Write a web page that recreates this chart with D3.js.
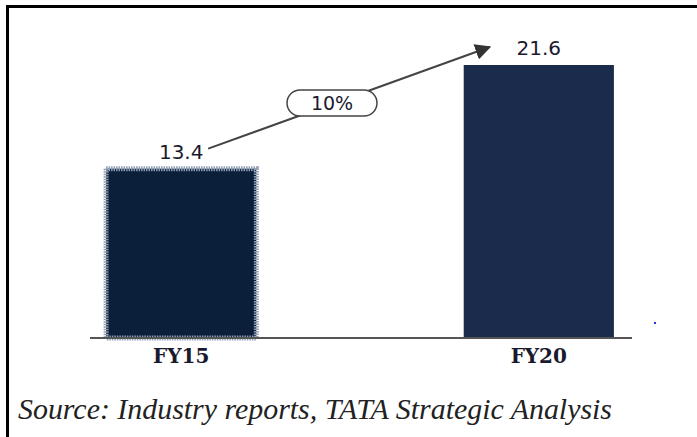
<!DOCTYPE html>
<html>
<head>
<meta charset="utf-8">
<script src="https://cdn.jsdelivr.net/npm/d3@7"></script>
<style>
  body { margin: 0; background: #fff; }
</style>
</head>
<body>
<svg id="drawing_region"></svg>
<script>
const categories = ["FY15", "FY20"];
const values = [13.4, 21.6];
const valueLabels = ["13.4", "21.6"];
const cagrLabel = "10%";
const sourceNote = "Source: Industry reports, TATA Strategic Analysis";

const width = 697, height = 437;
const svg = d3.select("#drawing_region")
    .attr("width", width)
    .attr("height", height);

svg.append("rect")
    .attr("width", width).attr("height", height)
    .attr("fill", "#fff");

// outer frame (runs off right & bottom)
svg.append("rect")
    .attr("x", 7.5).attr("y", 6.5)
    .attr("width", 800).attr("height", 800)
    .attr("fill", "none")
    .attr("stroke", "#000")
    .attr("stroke-width", 3);

const baseY = 338;
const xscale = d3.scaleBand()
    .domain(categories)
    .range([90, 630])
    .paddingInner(0.58)
    .paddingOuter(0.045);

const yscale = d3.scaleLinear()
    .domain([0, 21.6])
    .range([baseY, 65]);

const fills = ["#0b1f3a", "#1b2b4b"];

svg.selectAll("rect.bar")
    .data(values)
    .join("rect")
    .attr("class", "bar")
    .attr("x", (d, i) => xscale(categories[i]))
    .attr("y", d => yscale(d))
    .attr("width", xscale.bandwidth())
    .attr("height", d => baseY - yscale(d))
    .attr("fill", (d, i) => fills[i])
    .attr("stroke", (d, i) => i === 0 ? "#8d9db2" : "none")
    .attr("stroke-width", 5)
    .attr("stroke-dasharray", "1.5,1");

// baseline
svg.append("line")
    .attr("x1", 90).attr("x2", 632)
    .attr("y1", baseY).attr("y2", baseY)
    .attr("stroke", "#555")
    .attr("stroke-width", 2);

// value labels
svg.selectAll("text.val")
    .data(values)
    .join("text")
    .attr("class", "val")
    .attr("x", (d, i) => xscale(categories[i]) + xscale.bandwidth() / 2)
    .attr("y", d => yscale(d) - 10)
    .attr("text-anchor", "middle")
    .attr("font-family", "DejaVu Sans")
    .attr("font-size", "20px")
    .attr("fill", "#1a1a2e")
    .text((d, i) => valueLabels[i]);

// category labels
svg.selectAll("text.cat")
    .data(categories)
    .join("text")
    .attr("class", "cat")
    .attr("x", d => xscale(d) + xscale.bandwidth() / 2)
    .attr("y", baseY + 25)
    .attr("text-anchor", "middle")
    .attr("font-family", "DejaVu Serif")
    .attr("font-weight", "bold")
    .attr("font-size", "20px")
    .attr("fill", "#1a1a2e")
    .text(d => d);

// growth arrow
const defs = svg.append("defs");
defs.append("marker")
    .attr("id", "arrow")
    .attr("viewBox", "0 0 10 10")
    .attr("refX", 9).attr("refY", 5)
    .attr("markerWidth", 8).attr("markerHeight", 8)
    .attr("orient", "auto")
    .append("path")
    .attr("d", "M0,0 L10,5 L0,10 z")
    .attr("fill", "#333");

const x0 = xscale(categories[0]) + xscale.bandwidth() / 2 + 27;
const y0 = yscale(values[0]) - 20;
const x1 = xscale(categories[1]) + 26;
const y1 = yscale(values[1]) - 18;

svg.append("line")
    .attr("x1", x0).attr("y1", y0)
    .attr("x2", x1).attr("y2", y1)
    .attr("stroke", "#444")
    .attr("stroke-width", 2)
    .attr("marker-end", "url(#arrow)");

const mx = 332, my = 103;
svg.append("rect")
    .attr("x", mx - 45).attr("y", my - 13)
    .attr("width", 90).attr("height", 26)
    .attr("rx", 13)
    .attr("fill", "#fff")
    .attr("stroke", "#444")
    .attr("stroke-width", 1.5);

svg.append("text")
    .attr("x", mx).attr("y", my + 7)
    .attr("text-anchor", "middle")
    .attr("font-family", "DejaVu Sans")
    .attr("font-size", "19px")
    .attr("fill", "#1a1a2e")
    .text(cagrLabel);

// small stray mark at right edge of plot
svg.append("rect")
    .attr("x", 654).attr("y", 322)
    .attr("width", 2).attr("height", 2)
    .attr("fill", "#2233ee");

// source note
svg.append("text")
    .attr("x", 18).attr("y", 419)
    .attr("font-family", "Liberation Serif")
    .attr("font-style", "italic")
    .attr("font-size", "29px")
    .attr("textLength", 594)
    .attr("lengthAdjust", "spacingAndGlyphs")
    .attr("fill", "#222")
    .text(sourceNote);
</script>
</body>
</html>
